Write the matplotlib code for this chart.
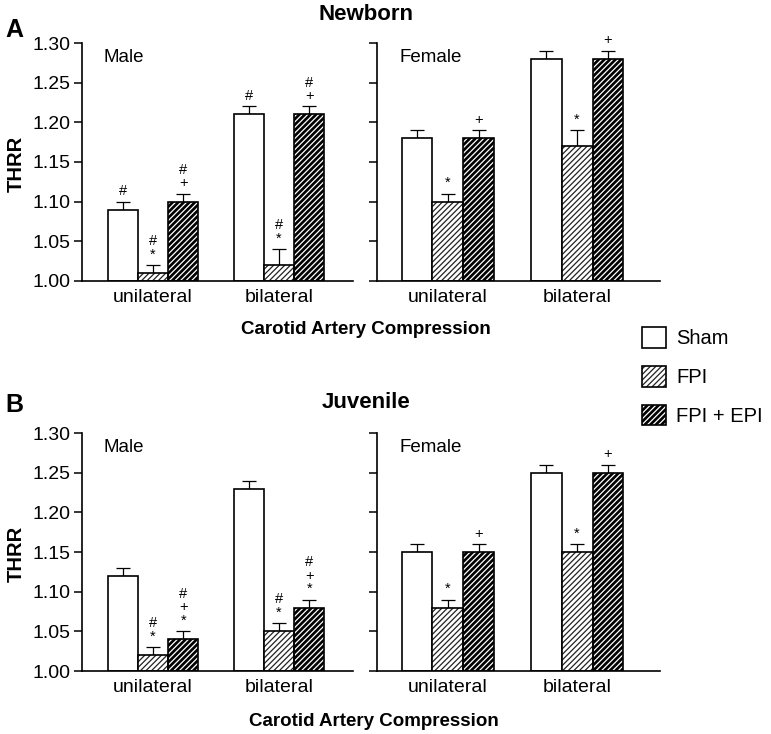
import numpy as np
import matplotlib
matplotlib.use("Agg")
import matplotlib.pyplot as plt
from matplotlib.patches import Patch

plt.rcParams['font.family'] = ['Liberation Sans', 'DejaVu Sans']
plt.rcParams['hatch.linewidth'] = 0.9

groups = ['unilateral', 'bilateral']
treatments = ['Sham', 'FPI', 'FPI + EPI']

# newborn, values per group: [Sham, FPI, FPI + EPI]
nb_male = [[1.09, 1.01, 1.10], [1.21, 1.02, 1.21]]
nb_male_err = [[0.01, 0.01, 0.01], [0.01, 0.02, 0.01]]
nb_male_sig = [['#', '#\n*', '#\n+'], ['#', '#\n*', '#\n+']]

nb_female = [[1.18, 1.10, 1.18], [1.28, 1.17, 1.28]]
nb_female_err = [[0.01, 0.01, 0.01], [0.01, 0.02, 0.01]]
nb_female_sig = [['', '*', '+'], ['', '*', '+']]

# juvenile
juv_male = [[1.12, 1.02, 1.04], [1.23, 1.05, 1.08]]
juv_male_err = [[0.01, 0.01, 0.01], [0.01, 0.01, 0.01]]
juv_male_sig = [['', '#\n*', '#\n+\n*'], ['', '#\n*', '#\n+\n*']]

juv_female = [[1.15, 1.08, 1.15], [1.25, 1.15, 1.25]]
juv_female_err = [[0.01, 0.01, 0.01], [0.01, 0.01, 0.01]]
juv_female_sig = [['', '*', '+'], ['', '*', '+']]

yticks = [1.00, 1.05, 1.10, 1.15, 1.20, 1.25, 1.30]

W = 0.24
HATCH = '//////'
FIG_W, FIG_H = 771, 734


def draw_bar(ax, x, h, kind):
    """one bar; kind 0 = open, 1 = light hatch, 2 = dark hatch"""
    b = 1.0
    if kind == 0:
        ax.bar(x, h - b, W, bottom=b, facecolor='white', edgecolor='black', lw=1.2, zorder=2)
    elif kind == 1:
        ax.bar(x, h - b, W, bottom=b, facecolor='white', edgecolor='#222222', hatch=HATCH, lw=0, zorder=2)
        ax.bar(x, h - b, W, bottom=b, fill=False, edgecolor='black', lw=1.2, zorder=3)
    else:
        ax.bar(x, h - b, W, bottom=b, facecolor='black', edgecolor='white', hatch=HATCH, lw=0, zorder=2)
        ax.bar(x, h - b, W, bottom=b, fill=False, edgecolor='black', lw=1.2, zorder=3)


def panel(ax, vals, errs, sigs, label, xlim, show_yticks):
    for gi in range(len(groups)):
        for ti in range(len(treatments)):
            x = gi + (ti - 1) * W
            v = vals[gi][ti]
            e = errs[gi][ti]
            draw_bar(ax, x, v, ti)
            ax.errorbar(x, v, yerr=[[0], [e]], fmt='none', ecolor='black',
                        elinewidth=0.9, capsize=4.8, capthick=0.9, zorder=1)
            if sigs[gi][ti]:
                ax.annotate(sigs[gi][ti], (x, v + e), xytext=(0, 2.5),
                            textcoords='offset points', ha='center', va='bottom',
                            fontsize=10.5, linespacing=0.95)
    ax.set_xlim(*xlim)
    ax.set_ylim(1.0, 1.30)
    ax.set_yticks(yticks)
    if show_yticks:
        ax.set_yticklabels([f'{t:.2f}' for t in yticks], fontsize=14)
    else:
        ax.set_yticklabels([])
    ax.set_xticks(range(len(groups)))
    ax.set_xticklabels(groups, fontsize=14)
    ax.tick_params(axis='x', length=0, pad=6)
    ax.tick_params(axis='y', length=6, width=1.1, pad=2)
    for s in ['top', 'right']:
        ax.spines[s].set_visible(False)
    for s in ['left', 'bottom']:
        ax.spines[s].set_linewidth(1.2)
    ax.text(0.08, 0.94, label, transform=ax.transAxes, fontsize=13.5, va='center')


fig = plt.figure(figsize=(FIG_W / 100, FIG_H / 100), dpi=100)


def axes_px(x0, x1, ytop, ybot):
    return fig.add_axes([x0 / FIG_W, 1 - ybot / FIG_H, (x1 - x0) / FIG_W, (ybot - ytop) / FIG_H])


ax1 = axes_px(82, 353, 43, 281)
ax2 = axes_px(377, 660, 43, 281)
ax3 = axes_px(82, 353, 433, 671)
ax4 = axes_px(377, 660, 433, 671)

xl_left = (-0.563, 1.587)
xl_right = (-0.55, 1.643)
panel(ax1, nb_male, nb_male_err, nb_male_sig, 'Male', xl_left, True)
panel(ax2, nb_female, nb_female_err, nb_female_sig, 'Female', xl_right, False)
panel(ax3, juv_male, juv_male_err, juv_male_sig, 'Male', xl_left, True)
panel(ax4, juv_female, juv_female_err, juv_female_sig, 'Female', xl_right, False)

# titles, panel letters, axis labels
fig.text(366 / FIG_W, 1 - 14 / FIG_H, 'Newborn', ha='center', va='center', fontsize=16, weight='bold')
fig.text(366 / FIG_W, 1 - 403 / FIG_H, 'Juvenile', ha='center', va='center', fontsize=16, weight='bold')
fig.text(14 / FIG_W, 1 - 30 / FIG_H, 'A', ha='center', va='center', fontsize=18, weight='bold')
fig.text(14 / FIG_W, 1 - 405 / FIG_H, 'B', ha='center', va='center', fontsize=18, weight='bold')
for yc in [164, 554]:
    fig.text(16 / FIG_W, 1 - yc / FIG_H, 'THRR', ha='center', va='center', rotation=90,
             fontsize=14.5, weight='bold')
fig.text(366 / FIG_W, 1 - 330 / FIG_H, 'Carotid Artery Compression', ha='center', va='center',
         fontsize=13.5, weight='bold')
fig.text(374 / FIG_W, 1 - 722 / FIG_H, 'Carotid Artery Compression', ha='center', va='center',
         fontsize=13.5, weight='bold')

# legend
h_sham = Patch(facecolor='white', edgecolor='black', lw=1.2)
h_fpi = (Patch(facecolor='white', edgecolor='#222222', hatch=HATCH, lw=0),
         Patch(fill=False, edgecolor='black', lw=1.2))
h_epi = (Patch(facecolor='black', edgecolor='white', hatch=HATCH, lw=0),
         Patch(fill=False, edgecolor='black', lw=1.2))
fig.legend([h_sham, h_fpi, h_epi], treatments, loc='upper left',
           bbox_to_anchor=(634 / FIG_W, 1 - 319 / FIG_H), frameon=False, fontsize=14.5,
           handlelength=1.2, handleheight=1.2, labelspacing=0.88, handletextpad=0.5,
           borderaxespad=0)

fig.savefig('out.png', dpi=100)
